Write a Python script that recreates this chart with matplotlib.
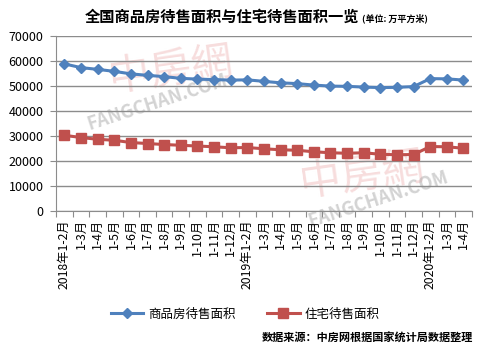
import matplotlib.pyplot as plt
import numpy as np

plt.rcParams['font.family'] = ['Noto Sans CJK SC', 'DejaVu Sans']

months = ["2018年1-2月", "1-3月", "1-4月", "1-5月", "1-6月", "1-7月", "1-8月", "1-9月",
          "1-10月", "1-11月", "1-12月",
          "2019年1-2月", "1-3月", "1-4月", "1-5月", "1-6月", "1-7月", "1-8月", "1-9月",
          "1-10月", "1-11月", "1-12月",
          "2020年1-2月", "1-3月", "1-4月"]

# 商品房待售面积 (万平方米)
commercial = [58900, 57400, 56700, 55900, 54900, 54300, 53800, 53100, 52800, 52600, 52400,
              52500, 51900, 51300, 51000, 50400, 50000, 49900, 49600, 49400, 49500, 49800,
              53000, 52900, 52400]
# 住宅待售面积 (万平方米)
residential = [30300, 29400, 28700, 28300, 27400, 27000, 26600, 26300, 26000, 25700, 25300,
               25400, 24900, 24500, 24300, 23700, 23300, 23100, 23300, 22700, 22500, 22600,
               25800, 25700, 25100]

blue = '#4F81BD'
red = '#C0504D'
grid_c = '#8C8C8C'

fig = plt.figure(figsize=(4.79, 3.51), dpi=100)
ax = fig.add_axes([0.117, 0.399, 0.868, 0.498])

x = np.arange(len(months))

# faint watermarks
ax.text(0.12, 0.80, "中房網", transform=ax.transAxes, fontsize=30, color='#EBAAAA',
        alpha=0.4, family=['Noto Sans CJK TC'], rotation=8, ha='left', va='center', zorder=0)
ax.text(0.07, 0.62, "FANGCHAN.COM", transform=ax.transAxes, fontsize=13, color='#A8A8A8',
        alpha=0.5, rotation=18, ha='left', va='center', weight='bold', zorder=0)
ax.text(0.58, 0.20, "中房網", transform=ax.transAxes, fontsize=30, color='#EBAAAA',
        alpha=0.4, family=['Noto Sans CJK TC'], rotation=8, ha='left', va='center', zorder=0)
ax.text(0.60, 0.07, "FANGCHAN.COM", transform=ax.transAxes, fontsize=13, color='#A8A8A8',
        alpha=0.5, rotation=18, ha='left', va='center', weight='bold', zorder=0)

ax.plot(x, commercial, color=blue, lw=2.2, marker='D', ms=5.5, label='商品房待售面积', zorder=3)
ax.plot(x, residential, color=red, lw=2.2, marker='s', ms=6.5, label='住宅待售面积', zorder=3)

ax.set_ylim(0, 70000)
ax.set_yticks(np.arange(0, 70001, 10000))
ax.set_xlim(-0.5, len(months) - 0.5)
ax.set_xticks(np.arange(len(months) + 1) - 0.5)
ax.set_xticklabels([])
ax.set_xticks(x, minor=True)
ax.set_xticklabels(months, minor=True, rotation=90, fontsize=8.8)
ax.tick_params(axis='x', which='minor', length=0, pad=6)
ax.tick_params(axis='x', which='major', length=4, color=grid_c, direction='out')
ax.tick_params(axis='y', length=4, color=grid_c, labelsize=9, pad=5)

ax.grid(axis='y', color=grid_c, lw=1)
ax.set_axisbelow(True)
for s in ['top', 'right']:
    ax.spines[s].set_visible(False)
ax.spines['left'].set_color(grid_c)
ax.spines['bottom'].set_color(grid_c)

fig.text(0.177, 0.952, "全国商品房待售面积与住宅待售面积一览", fontsize=11, weight='bold',
         ha='left', va='center')
fig.text(0.755, 0.948, "(单位: 万平方米)", fontsize=6.5, weight='bold', ha='left', va='center')

fig.legend(loc='center', bbox_to_anchor=(0.512, 1 - 314 / 351), ncol=2, frameon=False,
           fontsize=9, handlelength=2.6, columnspacing=2.5, handletextpad=0.4)

fig.text(0.987, 1 - 338 / 351, "数据来源：中房网根据国家统计局数据整理", fontsize=8,
         weight='bold', ha='right', va='center')

plt.savefig("out.png", dpi=100)
